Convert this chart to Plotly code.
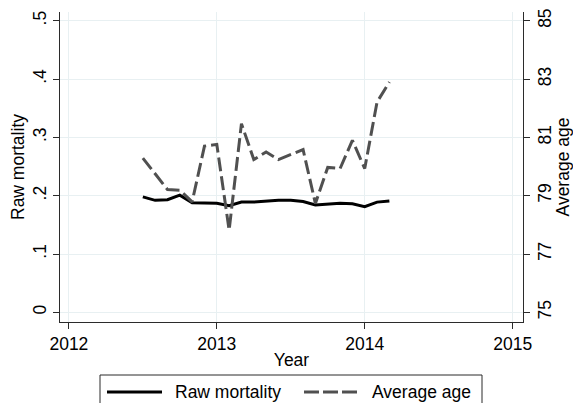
import plotly.graph_objects as go

# Monthly series, July 2012 - March 2014
months = ["2012-07", "2012-08", "2012-09", "2012-10", "2012-11", "2012-12",
          "2013-01", "2013-02", "2013-03", "2013-04", "2013-05", "2013-06",
          "2013-07", "2013-08", "2013-09", "2013-10", "2013-11", "2013-12",
          "2014-01", "2014-02", "2014-03"]
raw_mortality = [0.198, 0.192, 0.193, 0.201, 0.188, 0.188,
                 0.187, 0.183, 0.189, 0.189, 0.191, 0.192,
                 0.192, 0.190, 0.184, 0.185, 0.187, 0.186,
                 0.181, 0.189, 0.191]
average_age = [80.29, 79.77, 79.21, 79.19, 78.79, 80.70,
               80.76, 77.82, 81.47, 80.24, 80.50, 80.24,
               80.42, 80.58, 78.73, 79.97, 79.93, 80.90,
               79.93, 82.21, 82.90]

x_ticks = [2012, 2013, 2014, 2015]
left_ticks = [0, 0.1, 0.2, 0.3, 0.4, 0.5]
left_labels = ["0", ".1", ".2", ".3", ".4", ".5"]
right_ticks = [75, 77, 79, 81, 83, 85]

# decimal year (Jan = year + 0, Jul = year + 0.5)
x_year = [int(m[:4]) + (int(m[5:]) - 1) / 12 for m in months]

FONT = "Liberation Sans, Arial, sans-serif"
FS = 17.5
AXIS_COLOR = "#2b2b2b"
GRID_COLOR = "#e8f0f2"
DASH_COLOR = "#505050"

fig = go.Figure()
fig.add_trace(go.Scatter(x=x_year, y=raw_mortality, mode="lines",
                         name="Raw mortality",
                         line=dict(color="black", width=3),
                         showlegend=False))
fig.add_trace(go.Scatter(x=x_year, y=average_age, mode="lines",
                         name="Average age", yaxis="y2",
                         line=dict(color=DASH_COLOR, width=3, dash="14px,5px"),
                         showlegend=False))

y_lo, y_hi = -0.0166, 0.515
fig.update_layout(
    width=573, height=403,
    margin=dict(l=60, r=50, t=12, b=81, autoexpand=False),
    paper_bgcolor="white", plot_bgcolor="white",
    font=dict(family=FONT, size=FS, color="black"),
    xaxis=dict(range=[2011.94, 2015.07], tickvals=x_ticks,
               ticktext=[str(t) for t in x_ticks], automargin=False,
               showgrid=True, gridcolor=GRID_COLOR, gridwidth=1,
               showline=True, linecolor=AXIS_COLOR, linewidth=1,
               ticks="outside", ticklen=6, tickcolor=AXIS_COLOR,
               zeroline=False,
               title=dict(text="Year", standoff=0,
                          font=dict(size=FS))),
    yaxis=dict(range=[y_lo, y_hi], tickvals=left_ticks, ticktext=left_labels,
               tickangle=-90, automargin=False,
               showgrid=True, gridcolor=GRID_COLOR, gridwidth=1,
               showline=True, linecolor=AXIS_COLOR, linewidth=1,
               ticks="outside", ticklen=6, tickcolor=AXIS_COLOR,
               zeroline=False,
               title=dict(text="Raw mortality", standoff=0,
                          font=dict(size=FS))),
    yaxis2=dict(range=[75 + 20 * y_lo, 75 + 20 * y_hi], overlaying="y",
                side="right", tickvals=right_ticks,
                ticktext=[str(t) for t in right_ticks], tickangle=-90,
                showgrid=False, automargin=False,
                showline=True, linecolor=AXIS_COLOR, linewidth=1,
                ticks="outside", ticklen=6, tickcolor=AXIS_COLOR,
                zeroline=False,
                title=dict(text="Average age", standoff=4,
                           font=dict(size=FS))),
)

# Legend box below the plot (paper coordinates relative to the plot area)
PLOT_L, PLOT_W, PLOT_B, PLOT_H = 60, 463, 322, 310

def paper_x(px):
    return (px - PLOT_L) / PLOT_W

def paper_y(py):
    return (PLOT_B - py) / PLOT_H

fig.add_shape(type="rect", xref="paper", yref="paper",
              x0=paper_x(100), x1=paper_x(482),
              y0=paper_y(415), y1=paper_y(375),
              line=dict(color=AXIS_COLOR, width=1), fillcolor="white")
leg_y = paper_y(392)
fig.add_shape(type="line", xref="paper", yref="paper",
              x0=paper_x(107), x1=paper_x(162), y0=leg_y, y1=leg_y,
              line=dict(color="black", width=3))
fig.add_shape(type="line", xref="paper", yref="paper",
              x0=paper_x(304), x1=paper_x(357), y0=leg_y, y1=leg_y,
              line=dict(color=DASH_COLOR, width=3, dash="15px,4px"))
fig.add_annotation(xref="paper", yref="paper", x=paper_x(173), y=leg_y,
                   xanchor="left", yanchor="middle", showarrow=False,
                   text="Raw mortality", font=dict(size=FS))
fig.add_annotation(xref="paper", yref="paper", x=paper_x(370), y=leg_y,
                   xanchor="left", yanchor="middle", showarrow=False,
                   text="Average age", font=dict(size=FS))

fig.write_html("out.html")
